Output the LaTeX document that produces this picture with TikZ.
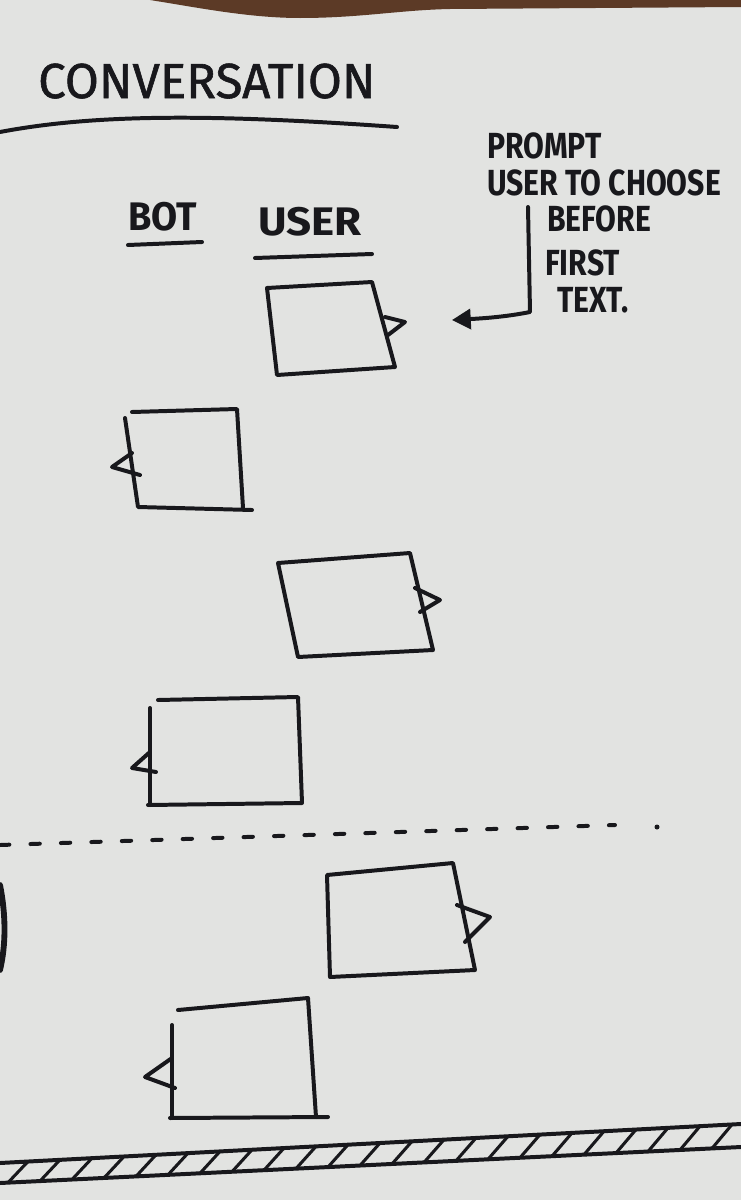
\documentclass[tikz,border=0pt]{standalone}
\usepackage{fontspec}
\setmainfont{Fira Sans}
\newfontfamily\markerfont{Fira Sans}[FakeBold=1.2]
\usetikzlibrary{arrows.meta}
\definecolor{paper}{RGB}{226,227,225}
\definecolor{ink}{RGB}{24,24,28}
\definecolor{wood}{RGB}{92,58,38}
\tikzset{
  pen/.style={draw=ink, line width=3.4pt, line cap=round, line join=round},
  hand/.style={text=ink, inner sep=0pt, anchor=base west},
  notetext/.style={hand, font=\fontsize{31}{31}\selectfont\bfseries},
}
\newcommand{\narrow}[1]{\scalebox{0.83}[1]{#1}}

\begin{document}
\begin{tikzpicture}[x=0.03cm,y=-0.03cm,>={Triangle[length=16pt,width=17pt]}]
\fill[paper] (0,0) rectangle (741,1200);
\useasboundingbox (0,0) rectangle (741,1200);
\fill[wood] (150,0) .. controls (200,8) and (250,18) .. (300,18) .. controls (360,18) and (400,10) .. (450,9) -- (741,7) -- (741,0) -- cycle;

% heading
\node[hand, font=\fontsize{42}{42}\markerfont] (title) at (38,98) {CONVERSATION};
\draw[pen] (0,132) .. controls (90,115) and (200,113) .. (397,127);
\node[hand, font=\fontsize{34}{34}\selectfont\bfseries] (bot) at (128,230) {\scalebox{0.95}[1]{BOT}};
\node[hand, font=\fontsize{34}{34}\selectfont\bfseries] (user) at (258,235) {\scalebox{1.1}[1]{USER}};
\draw[pen] (128,245) -- (202,242);
\draw[pen] (255,258) -- (372,254);

% note
\node[notetext] (note1) at (487,158) {\narrow{PROMPT}};
\node[notetext] (note2) at (487,195) {\narrow{USER TO CHOOSE}};
\node[notetext] (note3) at (547,231) {\narrow{BEFORE}};
\node[notetext] (note4) at (545,275) {\narrow{FIRST}};
\node[notetext] (note5) at (557,312) {\narrow{TEXT.}};
\coordinate (notetop) at (528,207);
\coordinate (noteknee) at (530,312);
\coordinate (notetip) at (452,320);
\draw[pen,->] (notetop) -- (noteknee) .. controls (510,316) and (490,318) .. (notetip);

% messages
\draw[pen] (267,288) -- (372,282) -- (395,367) -- (277,375) -- cycle;
\draw[pen] (385,317) -- (405,322) -- (388,335);
\draw[pen] (132,412) -- (237,409) -- (243,508);
\draw[pen] (252,510) -- (138,507) -- (125,418);
\draw[pen] (132,453) -- (112,467) -- (140,475);
\draw[pen] (278,563) -- (410,553) -- (433,650) -- (298,657) -- cycle;
\draw[pen] (415,588) -- (440,600) -- (420,612);
\draw[pen] (158,700) -- (298,697) -- (302,803) -- (148,805);
\draw[pen] (150,708) -- (150,805);
\draw[pen] (150,752) -- (132,768) -- (156,772);

\draw[pen, dash pattern=on 8pt off 18pt] (0,845) -- (615,825);
\fill[ink] (657,827) circle (2.5);
\draw[pen, line width=5pt] (0,885) .. controls (6,915) and (6,945) .. (0,970);

\draw[pen] (327,875) -- (453,863) -- (475,970) -- (330,977) -- cycle;
\draw[pen] (457,905) -- (490,917) -- (465,942);
\draw[pen] (178,1010) -- (308,998) -- (316,1117);
\draw[pen] (328,1117) -- (170,1118);
\draw[pen] (172,1025) -- (172,1118);
\draw[pen] (172,1058) -- (145,1077) -- (175,1088);

% floor
\draw[pen] (0,1163) -- (741,1124);
\draw[pen] (0,1183) -- (741,1147);
\foreach \x in {8,40,...,730}
  \draw[pen, line width=2.6pt] (\x,{1183-(\x/741)*36}) -- ({\x+20},{1163-((\x+20)/741)*39});
\end{tikzpicture}
\end{document}
